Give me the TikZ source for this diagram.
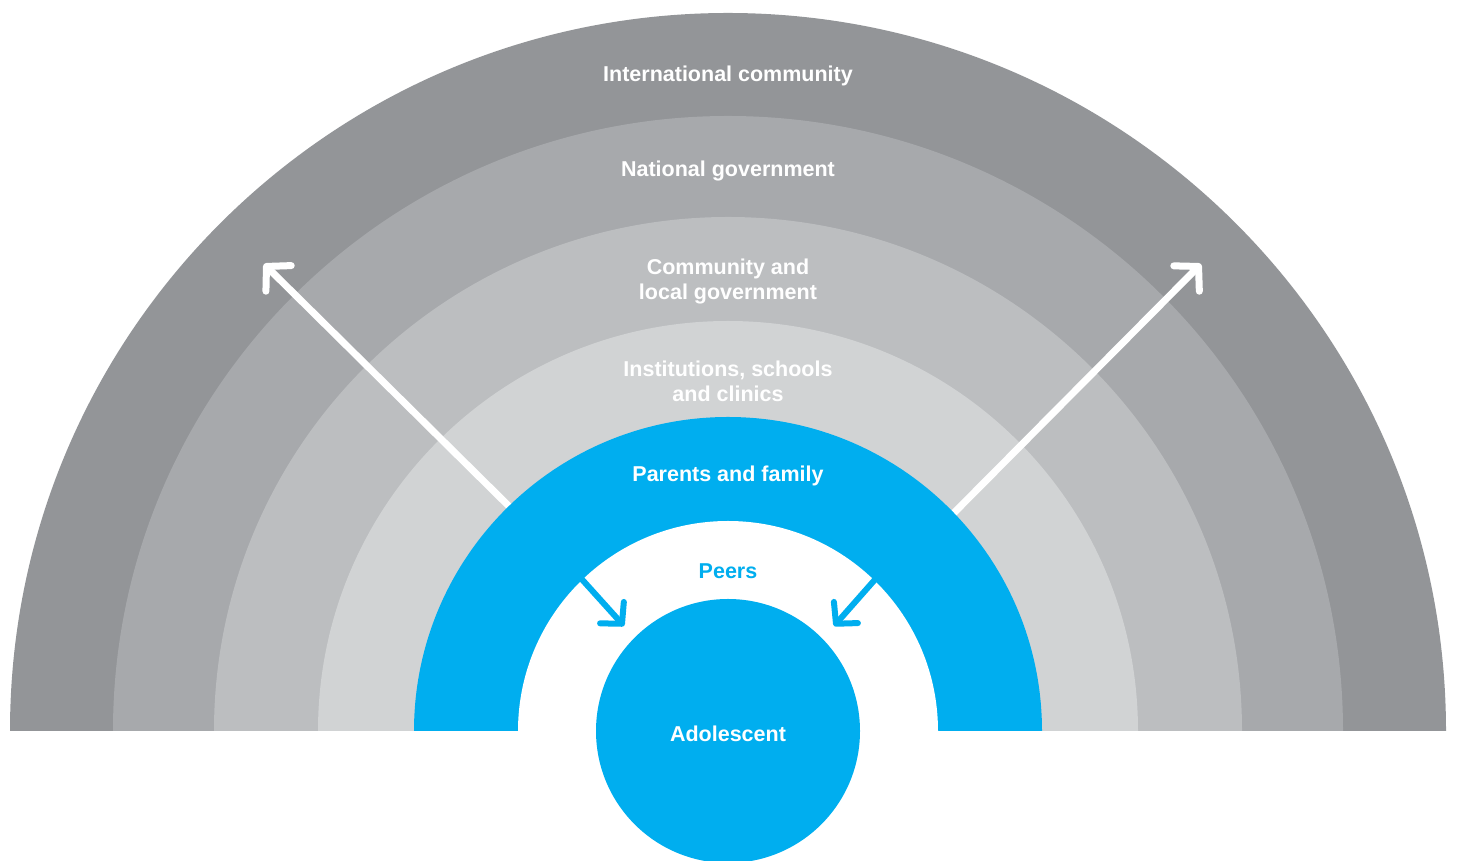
\documentclass[tikz,border=0pt]{standalone}
\usepackage{fontspec}
\setmainfont{Liberation Sans}
\usetikzlibrary{arrows.meta}
\definecolor{bandA}{HTML}{939598}
\definecolor{bandB}{HTML}{A7A9AC}
\definecolor{bandC}{HTML}{BCBEC0}
\definecolor{bandD}{HTML}{D1D3D4}
\definecolor{cyanblue}{HTML}{00AEEF}
\begin{document}
\begin{tikzpicture}[x=1pt,y=1pt,
  lbl/.style={text=white,font=\fontsize{21.5}{25}\selectfont\bfseries,align=center,inner sep=0pt},
  warrow/.style={draw=white,line width=7pt,line cap=round,-{Straight Barb[length=17pt,width=36pt,round]}},
  barrow/.style={draw=cyanblue,line width=6pt,line cap=round,-{Straight Barb[length=15pt,width=32pt,round]}}]
\useasboundingbox (0,0) rectangle (1457,861);
\coordinate (C) at (728,130);
\fill[bandA] (C) ++(-718pt,0) arc[start angle=180,end angle=0,radius=718pt] -- cycle;
\fill[bandB] (C) ++(-615pt,0) arc[start angle=180,end angle=0,radius=615pt] -- cycle;
\fill[bandC] (C) ++(-514pt,0) arc[start angle=180,end angle=0,radius=514pt] -- cycle;
\fill[bandD] (C) ++(-410pt,0) arc[start angle=180,end angle=0,radius=410pt] -- cycle;
% white arrows (under the blue ring)
\coordinate (wl0) at (530,334);
\coordinate (wl1) at (264,597);
\coordinate (wr0) at (935,329);
\coordinate (wr1) at (1201,597);
\draw[warrow] (wl0) -- (wl1);
\draw[warrow] (wr0) -- (wr1);
\fill[cyanblue] (C) ++(-314pt,0) arc[start angle=180,end angle=0,radius=314pt] -- cycle;
\fill[white] (C) ++(-210pt,0) arc[start angle=180,end angle=0,radius=210pt] -- cycle;
\node[circle,fill=cyanblue,minimum size=264pt,inner sep=0pt] (adol) at (C) {};
\node[lbl] (adoltext) at (728,127) {Adolescent};
% blue arrows
\coordinate (bl0) at (578,286);
\coordinate (bl1) at (624,235);
\coordinate (br0) at (879,286);
\coordinate (br1) at (834,235);
\draw[barrow] (bl0) -- (bl1);
\draw[barrow] (br0) -- (br1);
% labels
\node[lbl] (intl) at (728,785.5) {International community};
\node[lbl] (natl) at (728,689.5) {National government};
\node[lbl] (comm) at (728,580) {Community and\\local government};
\node[lbl] (inst) at (728,480) {Institutions, schools\\and clinics};
\node[lbl] (par) at (728,385.5) {Parents and family};
\node[lbl,text=cyanblue] (peers) at (728,289.5) {Peers};
\end{tikzpicture}
\end{document}
